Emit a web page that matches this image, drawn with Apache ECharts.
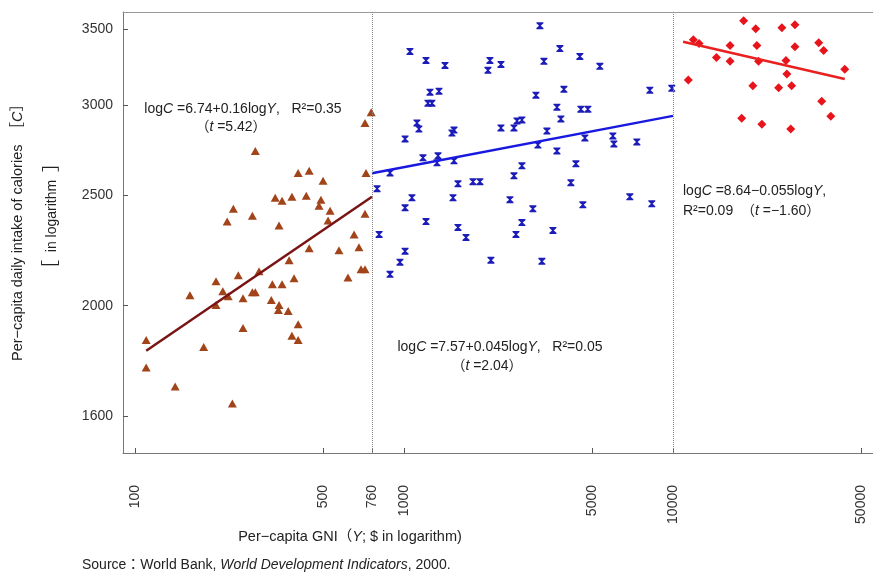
<!DOCTYPE html>
<html>
<head>
<meta charset="utf-8">
<script src="https://cdn.jsdelivr.net/npm/echarts@6/dist/echarts.min.js"></script>
<style>
  html, body { margin: 0; padding: 0; background: #fff; }
  #main { width: 873px; height: 576px; }
</style>
</head>
<body>
<div id="main"></div>
<script>
// per-capita GNI ($) and daily calories
const lowGNI = [110,110,141,160,180,200,200,212,222,220,232,230,242,252,252,273,273,280,289,280,321,324,332,341,343,343,352,352,371,374,383,383,390,404,404,404,433,444,444,483,491,500,522,531,573,619,652,680,692,716,716,722,716,755];
const lowCal = [1866,1765,1699,2043,1840,2101,2003,2059,2039,2371,2433,1641,2127,2031,1912,2399,2055,2055,2144,2735,2023,2089,2488,1983,2003,2352,2473,2089,1979,2193,2493,1882,2114,2616,1927,1866,2498,2627,2246,2448,2478,2575,2376,2423,2237,2118,2310,2251,2153,2153,2409,2616,2894,2958];

const midGNI = [1052,1207,1420,2086,2051,2293,1249,1349,1227,1270,1117,1136,1009,1534,1507,2293,1176,1338,1326,1534,887,794,1587,1804,1915,1070,1521,1009,2476,1207,1587,1700,808,1009,966,887,2104,3200,3797,4505,3312,5346,3093,3930,8200,9895,3702,4544,4825,3830,2630,2743,2563,3398,4703,5976,6028,7338,3146,3702,2743,4355,2563,4172,3013,4622,6910,8339,2743,2607,3577,3254];
const midCal = [3344,3284,3251,3284,3219,3258,3080,3086,3012,3012,2894,2859,2802,2853,2836,2865,2697,2708,2670,2681,2616,2534,2559,2570,2570,2488,2488,2438,2478,2371,2343,2296,2310,2233,2184,2131,2193,3523,3364,3311,3278,3245,3061,3098,3092,3104,2988,2976,2976,2918,2906,2912,2865,2847,2808,2819,2774,2785,2768,2735,2654,2665,2601,2565,2433,2453,2493,2458,2366,2310,2329,2188];

const highGNI = [18300,20300,25400,28400,11900,12500,16300,20500,28400,34800,36300,14500,16300,20800,26300,26500,43500,11400,19800,24700,27600,35700,38600,18000,21400,27400];
const highCal = [3558,3502,3509,3530,3425,3398,3384,3384,3377,3404,3351,3304,3278,3278,3284,3195,3226,3157,3120,3108,3120,3024,2934,2922,2887,2859];

// fitted lines (end points)
const lowFitGNI = [110, 760],    lowFitCal = [1826, 2493];
const midFitGNI = [760, 10000],  midFitCal = [2614, 2936];
const highFitGNI = [10900, 43500], highFitCal = [3410, 3163];

const dividers = [760, 10000];
const xTicks = [100, 500, 760, 1000, 5000, 10000, 50000];
const yTicks = [1600, 2000, 2500, 3000, 3500];

const lg = Math.log10;
const pts = (xs, ys) => xs.map((x, i) => [lg(x), lg(ys[i])]);

const FONT = "'Liberation Sans', Arial, 'Noto Sans CJK JP', sans-serif";
// small hourglass-like cross, like the spreadsheet marker
const crossPath = 'path://M0,0H10V1.6L6.2,5L10,8.4V10H0V8.4L3.8,5L0,1.6Z';

const chart = echarts.init(document.getElementById('main'));

function richSet(size) {
  return {
    n: { fontSize: size, fontFamily: FONT, fill: '#222' },
    i: { fontSize: size, fontFamily: FONT, fontStyle: 'italic', fill: '#222' },
    b: { fontSize: size + 4, fontFamily: FONT, fill: '#222' }
  };
}
function txt(x, y, text, align, size, rot) {
  return {
    type: 'text', x: x, y: y, silent: true, rotation: rot || 0,
    style: { text: text, rich: richSet(size || 14), align: align || 'center', verticalAlign: 'middle' }
  };
}

chart.setOption({
  animation: false,
  backgroundColor: '#fff',
  grid: { left: 123, right: 0, top: 12, bottom: 123 },
  xAxis: [{
    type: 'value',
    min: lg(90.2), max: lg(55400),
    splitLine: { show: false },
    axisLine: { lineStyle: { color: '#777', width: 1 } },
    axisTick: { inside: true, length: 5, customValues: xTicks.map(lg), lineStyle: { color: '#555' } },
    axisLabel: {
      customValues: xTicks.map(lg), rotate: 90, margin: 32,
      formatter: v => String(Math.round(Math.pow(10, v))),
      fontSize: 14, color: '#333', fontFamily: FONT
    }
  }, {
    type: 'value', position: 'top',
    min: lg(90.2), max: lg(55400),
    splitLine: { show: false },
    axisLine: { show: true, lineStyle: { color: '#999', width: 1 } },
    axisTick: { show: false },
    axisLabel: { show: false }
  }],
  yAxis: {
    type: 'value',
    min: lg(1485), max: lg(3622),
    splitLine: { show: false },
    axisLine: { show: true, lineStyle: { color: '#777', width: 1 } },
    axisTick: { show: true, inside: true, length: 5, customValues: yTicks.map(lg), lineStyle: { color: '#555' } },
    axisLabel: {
      customValues: yTicks.map(lg), margin: 10,
      formatter: v => String(Math.round(Math.pow(10, v))),
      fontSize: 14, color: '#333', fontFamily: FONT
    }
  },
  series: [
    {
      type: 'scatter', symbol: 'triangle', symbolSize: [9, 8],
      itemStyle: { color: '#A2441A', opacity: 1 },
      data: pts(lowGNI, lowCal),
      markLine: {
        silent: true, symbol: 'none', label: { show: false },
        lineStyle: { color: '#888', type: 'dotted', width: 1 },
        data: dividers.map(d => ({ xAxis: lg(d) }))
      }
    },
    {
      type: 'scatter', symbol: crossPath, symbolSize: 7,
      itemStyle: { color: '#1C1CB8', opacity: 1 },
      data: pts(midGNI, midCal)
    },
    {
      type: 'scatter', symbol: 'diamond', symbolSize: 9,
      itemStyle: { color: '#E8141C', opacity: 1 },
      data: pts(highGNI, highCal)
    },
    {
      type: 'line', showSymbol: false, silent: true,
      lineStyle: { color: '#7A1414', width: 2.5 },
      data: pts(lowFitGNI, lowFitCal)
    },
    {
      type: 'line', showSymbol: false, silent: true,
      lineStyle: { color: '#1818E0', width: 2.5 },
      data: pts(midFitGNI, midFitCal)
    },
    {
      type: 'line', showSymbol: false, silent: true,
      lineStyle: { color: '#E82020', width: 2.5 },
      data: pts(highFitGNI, highFitCal)
    }
  ],
  graphic: [
    txt(243, 109, '{n|log}{i|C}{n| =6.74+0.16log}{i|Y}{n|,   R²=0.35}'),
    txt(231, 127, '{n|（}{i|t}{n| =5.42）}'),
    txt(500, 347, '{n|log}{i|C}{n| =7.57+0.045log}{i|Y}{n|,   R²=0.05}'),
    txt(487, 366, '{n|（}{i|t}{n| =2.04）}'),
    txt(683, 191, '{n|log}{i|C}{n| =8.64−0.055log}{i|Y}{n|,}', 'left'),
    txt(683, 211, '{n|R²=0.09  （}{i|t}{n| =−1.60）}', 'left'),
    txt(18, 229, '{n|Per−capita daily intake of calories  ［}{i|C}{n|］}', 'center', 14.5, Math.PI / 2),
    txt(52, 216, '{b|［}{n|  in logarithm  }{b|］}', 'center', 14, Math.PI / 2),
    txt(350, 537, '{n|Per−capita GNI（}{i|Y}{n|; $ in logarithm)}', 'center', 14.5),
    txt(82, 565, '{n|Source：World Bank, }{i|World Development Indicators}{n|, 2000.}', 'left', 14)
  ]
});
</script>
</body>
</html>
